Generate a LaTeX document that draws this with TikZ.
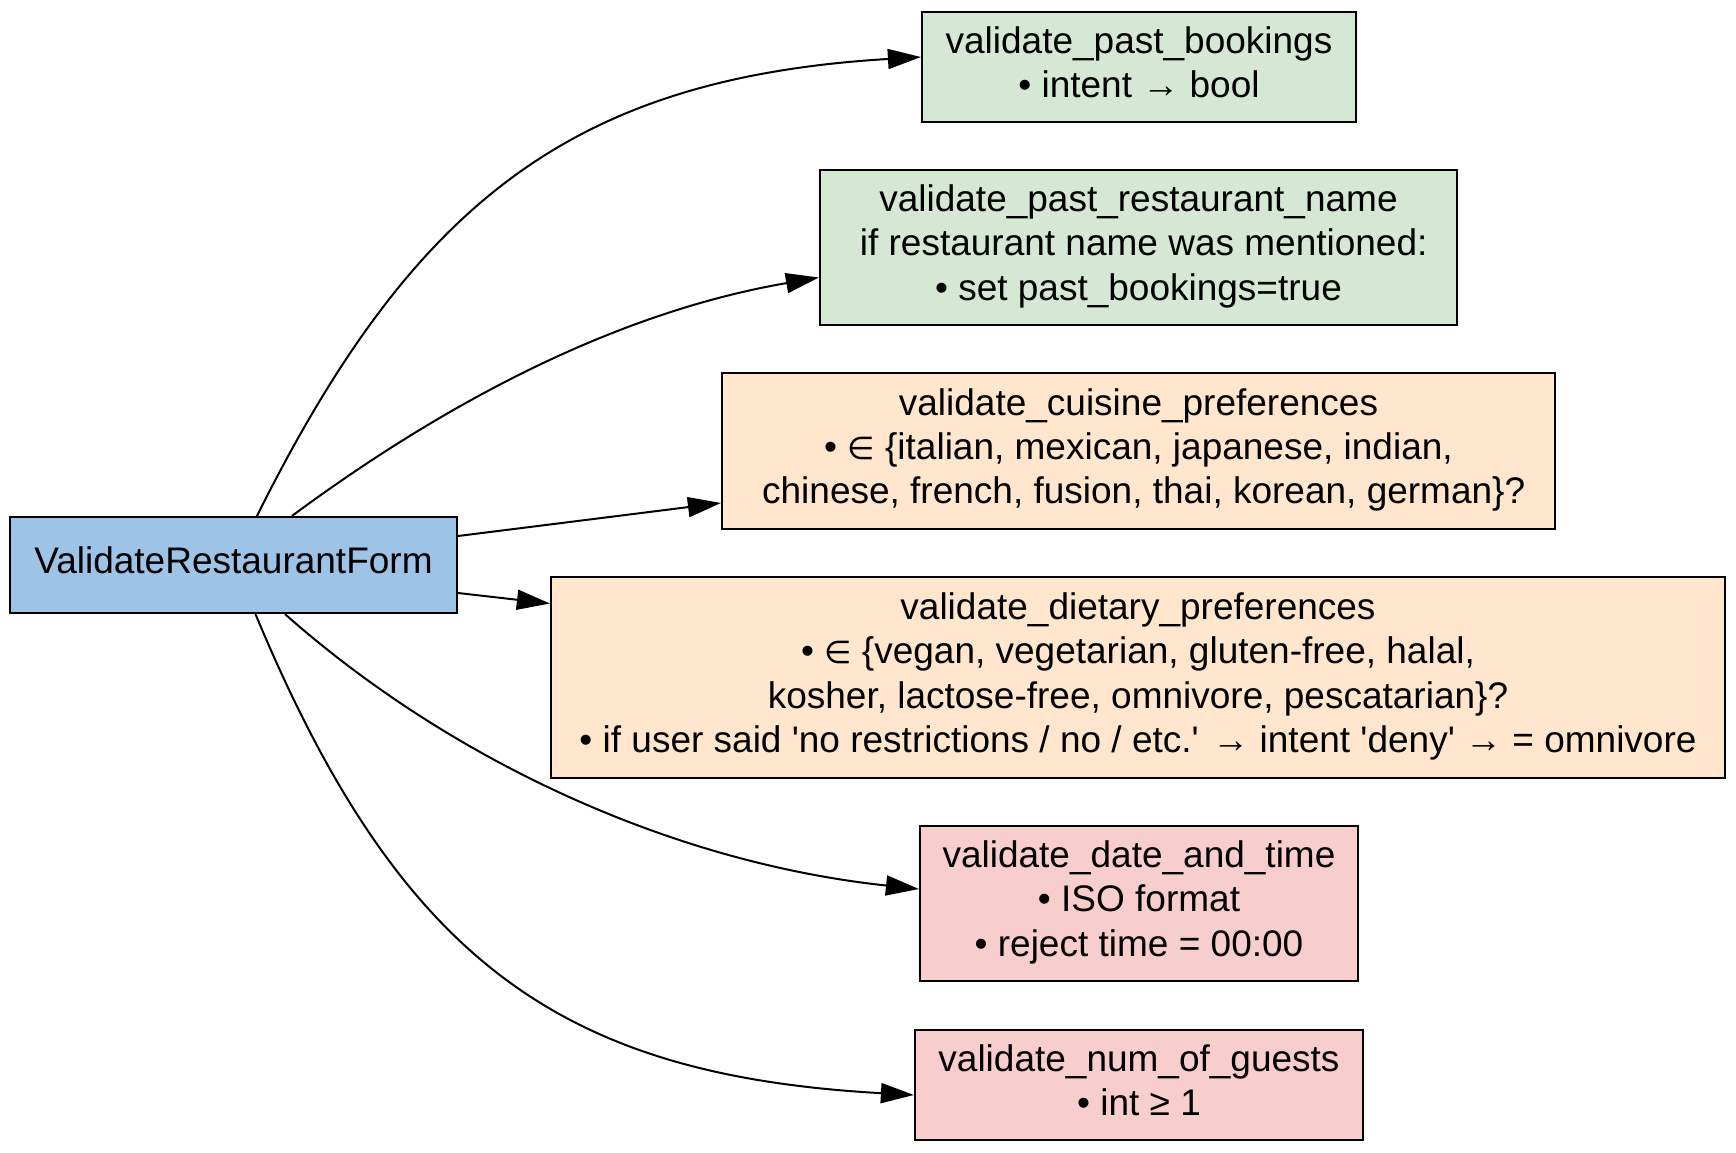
\documentclass[tikz,border=0pt]{standalone}
\usepackage{fontspec}
\setmainfont{Liberation Sans}
\newfontfamily\dejavu{DejaVu Sans}[Scale=0.85]
\usetikzlibrary{calc,arrows.meta}
\definecolor{formblue}{HTML}{9DC3E6}
\definecolor{pastgreen}{HTML}{D5E8D4}
\definecolor{prefpeach}{HTML}{FFE6CC}
\definecolor{timepink}{HTML}{F8CECC}

\begin{document}
\begin{tikzpicture}[x=0.5pt, y=-0.5pt,
  valbox/.style={draw, line width=1.1pt, align=center, inner sep=0pt,
    font=\fontsize{18.5}{22.2}\selectfont,
    execute at end node={\rule[-5pt]{0pt}{5pt}}},
  flow/.style={-{Triangle[length=16.5pt, width=10pt]}, line width=1pt}]
  \useasboundingbox (0,0) rectangle (1736,1152);

  % form and its validators
  \node[valbox, fill=formblue, minimum width=223.5pt, minimum height=48pt]
    (form) at (233.5,565) {ValidateRestaurantForm};
  \node[valbox, fill=pastgreen, minimum width=217pt, minimum height=55pt]
    (pastbook) at (1139,67) {validate\_past\_bookings\\• intent → bool};
  \node[valbox, fill=pastgreen, minimum width=318.5pt, minimum height=77.5pt]
    (pastname) at (1138.5,247.5) {validate\_past\_restaurant\_name\\
      \hspace*{.28em}if restaurant name was mentioned:\\• set past\_bookings=true};
  \node[valbox, fill=prefpeach, minimum width=416.5pt, minimum height=78pt]
    (cuisine) at (1138.5,451) {validate\_cuisine\_preferences\\
      • {\dejavu ∈} \{italian, mexican, japanese, indian,\\
      \hspace*{.28em}chinese, french, fusion, thai, korean, german\}?};
  \node[valbox, fill=prefpeach, minimum width=587pt, minimum height=100.5pt]
    (dietary) at (1138,677.5) {validate\_dietary\_preferences\\
      • {\dejavu ∈} \{vegan, vegetarian, gluten-free, halal,\\
      kosher, lactose-free, omnivore, pescatarian\}?\\
      • if user said \textquotesingle no restrictions / no / etc.\textquotesingle{} → intent \textquotesingle deny\textquotesingle{} → = omnivore};
  \node[valbox, fill=timepink, minimum width=219pt, minimum height=77.5pt]
    (datetime) at (1139,903.5) {validate\_date\_and\_time\\• ISO format\\• reject time = 00:00};
  \node[valbox, fill=timepink, minimum width=224pt, minimum height=55pt]
    (guests) at (1139,1085) {validate\_num\_of\_guests\\• int ≥ 1};

  % connectors
  \draw[flow] ($(form.north)+(23.5,0)$) .. controls +(156,-313) and +(-349,21) .. ($(pastbook.west)+(0,-10)$);
  \draw[flow] ($(form.north)+(58.5,0)$) .. controls +(161,-119) and +(-197,34) .. ($(pastname.west)+(0,30)$);
  \draw[flow] ($(form.east)+(0,-29)$) -- ($(cuisine.west)+(0,52)$);
  \draw[flow] ($(form.east)+(0,28)$) -- ($(dietary.west)+(0,-74)$);
  \draw[flow] ($(form.south)+(51.5,0)$) .. controls +(165,146) and +(-248,-26.5) .. ($(datetime.west)+(0,-14.5)$);
  \draw[flow] ($(form.south)+(22,0)$) .. controls +(146,351) and +(-349,-19.6) .. ($(guests.west)+(0,10)$);
\end{tikzpicture}
\end{document}
